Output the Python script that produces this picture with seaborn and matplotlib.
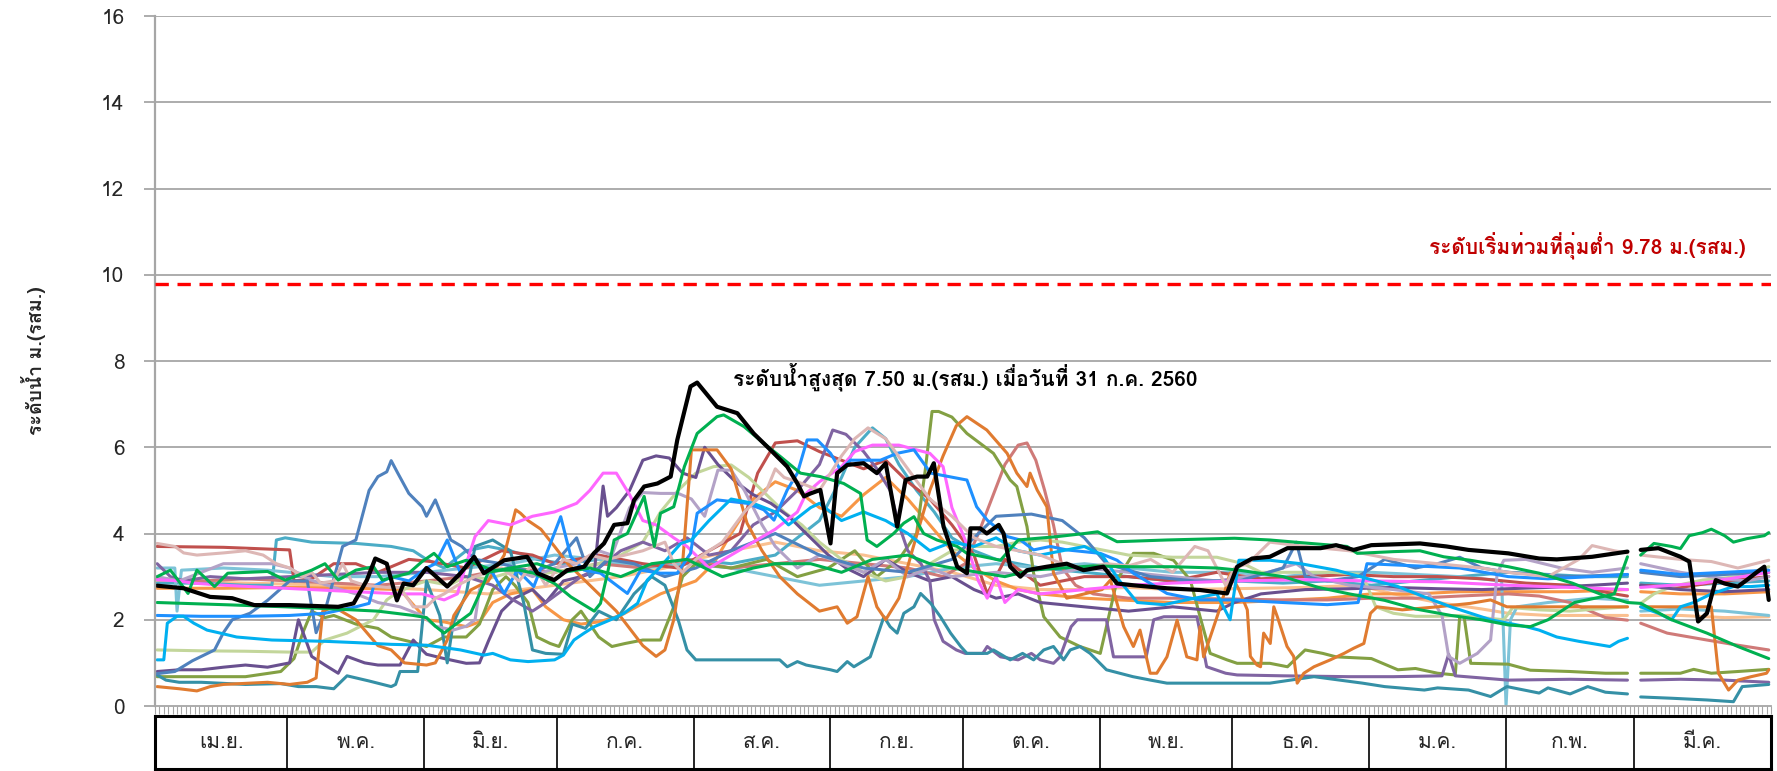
import numpy as np
import pandas as pd
import matplotlib
matplotlib.use("Agg")
import matplotlib.pyplot as plt
import seaborn as sns

GAP = np.nan  # 29 ก.พ. (ไม่มีข้อมูลในปีปกติ)

months = ["เม.ย.", "พ.ค.", "มิ.ย.", "ก.ค.", "ส.ค.", "ก.ย.", "ต.ค.", "พ.ย.", "ธ.ค.", "ม.ค.", "ก.พ.", "มี.ค."]
month_days = [30, 31, 30, 31, 31, 30, 31, 30, 31, 31, 29, 31]

flood_level = 9.78
flood_label = "ระดับเริ่มท่วมที่ลุ่มต่ำ 9.78 ม.(รสม.)"
max_label = "ระดับน้ำสูงสุด 7.50 ม.(รสม.) เมื่อวันที่ 31 ก.ค. 2560"
y_label = "ระดับน้ำ ม.(รสม.)"

# (วัน นับจาก 1 เม.ย., ระดับน้ำ ม.)
black = [(0, 2.79), (6, 2.73), (12, 2.53), (17, 2.5), (22, 2.34), (30, 2.34), (41, 2.3), (44.5, 2.38),
         (47.5, 2.92), (49.4, 3.42), (52, 3.3), (54.3, 2.45), (55.8, 2.84), (58, 2.8), (61, 3.2), (65.7, 2.77),
         (68.7, 3.08), (71.8, 3.46), (74, 3.08), (78.6, 3.38), (83.8, 3.46), (86.1, 3.08), (89.9, 2.92),
         (92.9, 3.15), (96.7, 3.23), (98.9, 3.54), (101.2, 3.77), (103.5, 4.2), (106.5, 4.24), (108, 4.77),
         (110.3, 5.09), (113.3, 5.16), (116.3, 5.32), (117.8, 6.17), (120.8, 7.41), (122.3, 7.5), (126.8, 6.94),
         (131.4, 6.79), (135.1, 6.32), (138.9, 5.94), (142.7, 5.55), (145, 5.16), (146.5, 4.86), (148, 4.93),
         (150.2, 5.01), (152.5, 3.77), (154, 5.4), (156.3, 5.59), (160, 5.63), (163, 5.4), (165, 5.63),
         (167.6, 4.16), (169.5, 5.24), (172.1, 5.32), (174.4, 5.32), (175.9, 5.63), (178.1, 4.16), (181.2, 3.23),
         (183.4, 3.08), (184.2, 4.12), (186.4, 4.12), (187.9, 4.0), (190.6, 4.2), (191.7, 4.0), (193.2, 3.23),
         (195.5, 3.0), (197, 3.15), (201.5, 3.23), (206, 3.3), (209.8, 3.15), (214.3, 3.23), (217.4, 2.84),
         (221.1, 2.8), (228.7, 2.73), (236.2, 2.69), (242.3, 2.61), (244.6, 3.23), (248, 3.42), (252, 3.46),
         (256, 3.66), (263.5, 3.66), (267, 3.73), (271, 3.62), (275, 3.73), (286, 3.77), (292, 3.7), (297, 3.62),
         (306, 3.54), (313, 3.42), (317, 3.4), (325, 3.46), (333, 3.58), (334, GAP), (336, 3.62), (340, 3.66),
         (345, 3.46), (347, 3.35), (349, 1.96), (351, 2.15), (353, 2.92), (355, 2.84), (358, 2.77), (360, 2.92),
         (362, 3.08), (364, 3.23), (365, 2.46)]

green_a = [(0, 3.0), (3, 3.15), (7, 2.61), (9, 3.15), (13, 2.77), (16, 3.08), (25, 3.12), (29, 2.92), (35, 3.15),
           (38, 3.3), (41, 2.92), (45, 3.15), (49, 3.23), (51, 2.92), (57, 3.08), (60, 3.35), (62.7, 3.54),
           (65.7, 3.23), (70, 3.38), (76, 3.15), (82, 3.15), (85.3, 3.08), (90, 2.84), (93.7, 2.53), (97.4, 2.3),
           (99, 2.2), (100.4, 2.38), (102, 3.08), (103.5, 3.85), (106.5, 4.0), (110.3, 4.86), (112.6, 3.7),
           (114, 4.47), (117, 4.62), (119.4, 5.55), (122.3, 6.32), (126.8, 6.71), (128.3, 6.75), (132.9, 6.48),
           (137.4, 6.09), (141.2, 5.78), (145.7, 5.4), (150.2, 5.32), (155.5, 5.16), (159.3, 4.93), (160.8, 3.85),
           (163, 3.7), (166.8, 4.0), (169.1, 4.24), (171.4, 4.39), (173.6, 4.0), (176.6, 3.85), (181.2, 3.7),
           (183.4, 3.54), (191, 3.38), (195, 3.85), (204, 3.93), (210, 4.0), (213, 4.04), (217.4, 3.81),
           (228.7, 3.85), (244, 3.89), (252, 3.85), (260, 3.78), (269.5, 3.7), (271.8, 3.54), (280, 3.58),
           (286, 3.6), (291.4, 3.46), (297.4, 3.38), (306, 3.23), (313, 3.08), (320.5, 2.85), (328, 2.55),
           (333, 2.4), (336, 2.38), (343, 2.0), (351, 1.69), (358, 1.38), (365, 1.1)]

green_b = [(0, 2.4), (15, 2.35), (29, 2.3), (40, 2.25), (50, 2.2), (58, 2.1), (61, 2.05), (63, 1.85), (65, 1.69),
           (67, 1.85), (71, 2.15), (73, 2.6), (75, 3.1), (80, 3.2), (86, 3.3), (92, 3.1), (98, 3.2), (105, 3.0),
           (112, 3.3), (120, 3.4), (128, 3.0), (135, 3.2), (140, 3.3), (148, 3.3), (155, 3.1), (162, 3.4),
           (170, 3.5), (175, 3.3), (180, 3.2), (186, 3.1), (192, 3.0), (198, 3.15), (205, 3.2), (212, 3.25),
           (220, 3.23), (230, 3.23), (240, 3.2), (245, 3.15), (255, 3.0), (263, 2.75), (270, 2.6), (278, 2.45),
           (285, 2.25), (293, 2.1), (300, 2.0), (306, 1.88), (311, 1.84), (315, 2.0), (321, 2.4), (328, 2.55),
           (330, 2.6), (333, 3.46), (334, GAP), (336, 3.5), (339, 3.77), (343, 3.7), (345, 3.65), (347, 3.95),
           (350, 4.02), (352, 4.1), (355, 3.95), (357, 3.8), (360, 3.88), (364, 3.95), (365, 4.02)]

steel = [(0, 0.75), (4, 0.8), (8, 1.05), (13, 1.3), (15, 1.7), (17, 2.0), (21, 2.15), (25, 2.45), (30, 2.9),
         (34, 2.9), (36, 1.7), (38, 2.2), (42, 3.7), (45, 3.85), (48, 5.0), (50, 5.32), (52, 5.43), (53, 5.69),
         (54.5, 5.4), (57, 4.93), (60, 4.62), (61, 4.4), (63, 4.78), (64.5, 4.4), (66.5, 3.85), (69, 3.7),
         (72, 3.4), (78, 3.3), (85, 3.1), (90, 3.3), (95, 3.9), (98, 3.0), (102, 3.4), (108, 3.3), (115, 3.0),
         (122, 3.2), (130, 3.6), (140, 4.0), (150, 3.5), (160, 3.2), (170, 3.1), (180, 3.4), (186, 4.0),
         (190, 4.4), (198, 4.45), (205, 4.3), (210, 3.9), (215, 3.3), (225, 3.0), (235, 2.9), (245, 2.9),
         (255, 3.2), (258, 3.8), (260, 3.0), (265, 2.9), (272, 3.0), (278, 3.4), (285, 3.2), (290, 3.3),
         (295, 3.45), (300, 3.2), (306, 3.1), (320, 3.0), (333, 3.05), (334, GAP), (336, 3.1), (345, 3.0),
         (355, 3.05), (365, 3.1)]

cyan = [(0, 1.07), (1.5, 1.07), (2.3, 1.92), (4.5, 2.08), (6, 2.08), (8.3, 1.92), (11.3, 1.76), (14.3, 1.69),
        (18, 1.6), (26, 1.53), (38, 1.5), (45, 1.47), (53, 1.43), (61, 1.41), (68.7, 1.3), (74, 1.18), (76, 1.22),
        (80, 1.07), (84, 1.03), (90, 1.07), (92, 1.18), (94.4, 1.53), (96.7, 1.69), (99, 1.84), (102.7, 2.0),
        (105.7, 2.15), (108.8, 2.38), (111, 2.92), (114, 3.23), (118.6, 3.77), (121, 3.85), (125, 4.3),
        (130, 4.8), (135, 4.7), (140, 4.5), (143, 4.2), (148, 4.6), (150, 4.7), (155, 4.3), (160, 4.5),
        (165, 4.3), (170, 4.0), (175, 3.6), (180, 3.8), (185, 3.7), (190, 3.9), (195, 3.6), (200, 3.5),
        (205, 3.6), (210, 3.7), (214, 3.5), (218, 2.9), (222, 2.4), (228, 2.35), (235, 2.5), (240, 2.6),
        (243, 2.0), (245, 3.38), (252, 3.38), (259, 3.3), (267, 3.15), (275, 2.93), (281, 2.77), (287, 2.53),
        (293, 2.3), (302, 2.0), (306, 1.92), (310, 1.84), (313, 1.76), (317, 1.6), (322, 1.5), (329, 1.38),
        (331, 1.5), (333, 1.57), (334, GAP), (336, 2.3), (340, 2.15), (343, 2.0), (345, 2.3), (348, 2.4),
        (352, 2.6), (357, 2.77), (361, 2.77), (365, 2.8)]

dodger = [(0, 2.1), (10, 2.08), (20, 2.08), (30, 2.1), (38, 2.15), (45, 2.3), (48, 2.38), (49, 2.77), (53, 3.0),
          (57, 2.9), (61, 3.2), (63, 3.3), (65.7, 3.85), (68.7, 3.08), (71, 3.4), (76, 3.08), (78.6, 2.61),
          (81.6, 3.15), (85.3, 2.77), (91.4, 4.39), (93.7, 3.46), (96.7, 3.15), (100.4, 3.08), (106.5, 2.61),
          (109.5, 3.15), (114, 3.08), (117.8, 3.08), (120.8, 3.54), (122.3, 4.47), (126.8, 4.78), (133.6, 4.7),
          (137.4, 4.55), (139.7, 4.31), (142.7, 5.01), (145, 5.4), (147.2, 6.17), (149.5, 6.17), (152.5, 5.86),
          (154.8, 5.47), (157, 5.7), (163.8, 5.7), (167.6, 5.86), (171.4, 5.94), (175.2, 5.4), (183.4, 5.24),
          (185.6, 4.62), (188, 4.31), (192.5, 3.93), (195.5, 3.85), (198.5, 3.62), (202.3, 3.7), (206, 3.62),
          (213.6, 3.54), (217.4, 3.38), (221.1, 3.08), (228.7, 2.61), (232.5, 2.53), (236.2, 2.46), (244, 2.46),
          (255, 2.4), (265, 2.35), (272, 2.4), (274, 3.3), (285, 3.25), (295, 3.2), (306, 3.0), (315, 2.95),
          (325, 3.0), (333, 3.05), (334, GAP), (336, 3.15), (345, 3.05), (355, 3.1), (365, 3.15)]

magenta = [(0, 2.93), (5, 2.9), (8, 2.85), (15, 2.8), (25, 2.75), (35, 2.7), (45, 2.65), (55, 2.6), (60, 2.6),
           (65, 2.46), (68, 2.6), (70, 3.3), (72, 3.93), (75, 4.3), (80, 4.2), (85, 4.4), (90, 4.5), (95, 4.7),
           (98, 5.0), (101, 5.4), (104, 5.4), (107, 4.9), (110, 4.3), (113, 4.2), (117, 3.9), (120, 3.7),
           (125, 3.2), (130, 3.5), (135, 3.8), (140, 4.1), (145, 4.5), (147, 4.93), (150, 5.2), (155, 5.55),
           (158, 5.9), (162, 6.05), (168, 6.05), (172, 5.94), (175, 5.86), (178, 5.55), (180, 4.6), (183, 3.85),
           (186, 2.9), (188, 2.5), (190, 3.0), (192, 2.4), (195, 2.7), (200, 2.6), (210, 2.7), (220, 2.8),
           (230, 2.85), (244, 2.9), (260, 2.93), (275, 2.9), (290, 2.88), (306, 2.8), (320, 2.75), (333, 2.7),
           (334, GAP), (336, 2.75), (350, 2.85), (365, 3.1)]

lavender = [(0, 3.0), (5, 2.9), (10, 3.1), (15, 3.3), (20, 3.3), (26, 3.3), (30, 3.2), (34, 2.95), (40, 2.75),
            (45, 2.6), (50, 2.4), (55, 2.3), (60, 2.1), (63, 1.85), (67, 1.76), (70, 1.85), (72, 2.0), (73, 2.7),
            (76, 3.1), (80, 3.2), (85, 3.0), (90, 3.2), (95, 3.3), (100, 3.6), (103, 3.5), (107, 4.6), (110, 4.95),
            (114, 4.93), (118, 4.93), (121, 4.8), (124, 4.4), (127, 5.47), (130, 5.47), (133, 5.0), (137, 4.2),
            (140, 3.7), (145, 3.2), (150, 3.5), (155, 3.3), (160, 3.1), (165, 3.4), (170, 3.0), (175, 3.2),
            (180, 3.0), (190, 3.1), (200, 3.0), (210, 3.2), (220, 3.1), (230, 3.0), (240, 2.9), (250, 3.05),
            (258, 3.3), (262, 3.0), (270, 2.8), (280, 2.7), (288, 2.6), (291, 2.1), (292.5, 1.15), (295, 0.99),
            (299, 1.22), (302, 1.53), (303.5, 3.08), (305, 3.38), (310, 3.4), (318, 3.2), (325, 3.1), (333, 3.2),
            (334, GAP), (336, 3.3), (345, 3.1), (355, 2.95), (360, 2.9), (365, 3.0)]

light_green = [(0, 1.3), (10, 1.28), (20, 1.27), (30, 1.25), (35, 1.25), (38, 1.53), (43, 1.69), (49, 2.0),
               (52, 2.46), (54, 2.61), (58, 2.8), (61, 2.9), (66, 2.8), (70, 3.0), (75, 2.95), (80, 3.1),
               (85, 3.05), (90, 3.1), (95, 3.2), (100, 3.3), (105, 3.5), (110, 3.8), (114, 4.5), (118, 5.0),
               (122, 5.4), (126, 5.55), (130, 5.59), (134, 5.3), (138, 4.9), (142, 4.5), (146, 4.2), (150, 3.8),
               (155, 3.4), (160, 3.1), (165, 2.9), (170, 3.0), (175, 3.3), (180, 3.6), (185, 3.7), (190, 3.7),
               (195, 3.8), (200, 3.85), (205, 3.8), (210, 3.7), (215, 3.6), (220, 3.5), (230, 3.45), (240, 3.45),
               (246, 3.3), (250, 3.1), (258, 3.1), (266, 3.1), (273, 3.05), (276, 2.3), (280, 2.15), (285, 2.08),
               (290, 2.08), (295, 2.1), (300, 2.05), (305, 2.0), (307, 2.28), (313, 2.23), (320, 2.2),
               (326, 2.25), (333, 2.3), (334, GAP), (336, 2.38), (339, 2.6), (343, 2.77), (350, 2.92),
               (358, 3.0), (365, 3.23)]

olive = [(0, 0.68), (10, 0.68), (20, 0.68), (28, 0.8), (31, 1.1), (33, 1.7), (35, 2.2), (38, 2.05), (40, 2.1),
         (45, 1.9), (50, 1.8), (53, 1.6), (57, 1.5), (61, 1.38), (65, 1.6), (70, 1.6), (73, 1.9), (76, 2.7),
         (79, 3.0), (81, 2.8), (84, 2.4), (86, 1.6), (89, 1.45), (91, 1.38), (94, 2.0), (96, 2.2), (100, 1.6),
         (103, 1.38), (106, 1.45), (110, 1.53), (114, 1.53), (117, 2.3), (119, 3.0), (122, 3.3), (130, 3.2),
         (138, 3.4), (145, 3.0), (152, 3.2), (158, 3.6), (163, 3.0), (168, 3.4), (172, 4.0), (174, 5.5),
         (175.5, 6.83), (177, 6.83), (180, 6.7), (183.4, 6.32), (189.4, 5.86), (193.2, 5.24), (194.7, 5.09),
         (197, 4.16), (198.5, 3.08), (200.8, 2.07), (204.5, 1.6), (209, 1.38), (213.6, 1.22), (215, 1.84),
         (217.4, 2.92), (221.1, 3.54), (225.7, 3.54), (230.2, 3.38), (234, 2.92), (236.2, 2.07), (238.5, 1.22),
         (242.3, 1.07), (244.6, 0.99), (252, 0.99), (256, 0.91), (260, 1.3), (264, 1.22), (267, 1.14),
         (275, 1.1), (281, 0.84), (285, 0.87), (290, 0.76), (294, 0.72), (295, 2.07), (296, 2.07),
         (297.5, 0.99), (306, 0.97), (311, 0.83), (320, 0.8), (328, 0.76), (333, 0.76), (334, GAP), (336, 0.76),
         (345, 0.76), (348, 0.85), (352, 0.76), (358, 0.8), (365, 0.85)]

dark_purple = [(0, 0.8), (5, 0.84), (10, 0.84), (15, 0.9), (20, 0.95), (25, 0.9), (30, 1.0), (32, 2.0),
               (35, 1.15), (38, 0.95), (41, 0.76), (43, 1.15), (47, 1.0), (50, 0.95), (55, 0.95), (58, 1.53),
               (60, 1.3), (61, 1.2), (65, 1.1), (70, 0.99), (73, 1.0), (75, 1.5), (78, 2.2), (81, 2.5), (85, 2.7),
               (88, 2.4), (92, 2.9), (96, 3.0), (99, 3.1), (101, 5.1), (102, 4.4), (104, 4.6), (107, 5.0),
               (110, 5.7), (113, 5.8), (116, 5.75), (119, 5.4), (122, 5.3), (124, 6.0), (127, 5.6), (131, 5.2),
               (135, 4.9), (139, 4.7), (143, 4.4), (148, 3.9), (152, 3.5), (156, 3.2), (160, 3.0), (165, 3.4),
               (170, 3.1), (175, 2.9), (180, 3.0), (185, 2.7), (190, 2.5), (195, 2.6), (200, 2.4), (210, 2.3),
               (220, 2.2), (230, 2.3), (240, 2.2), (244, 2.4), (250, 2.6), (260, 2.7), (270, 2.72), (280, 2.75),
               (290, 2.72), (300, 2.7), (306, 2.72), (315, 2.75), (325, 2.8), (333, 2.85), (334, GAP), (336, 2.8),
               (345, 2.7), (355, 2.65), (365, 2.7)]

purple = [(0, 3.3), (3, 3.0), (6, 2.9), (12, 3.0), (20, 2.95), (30, 3.0), (40, 3.05), (50, 3.1), (61, 3.1),
          (70, 3.0), (76, 2.8), (80, 2.5), (85, 2.2), (88, 2.4), (92, 2.7), (96, 3.0), (100, 3.2), (105, 3.6),
          (110, 3.8), (115, 3.6), (120, 3.9), (125, 3.5), (130, 3.6), (135, 4.2), (140, 4.5), (145, 5.0),
          (150, 5.6), (153, 6.4), (156, 6.3), (160, 5.9), (163, 5.5), (166, 5.0), (168, 4.2), (170, 3.6),
          (173, 3.3), (175, 2.9), (176, 2.0), (178, 1.5), (181, 1.3), (183, 1.22), (187, 1.22), (188, 1.38),
          (191, 1.14), (195, 1.07), (198, 1.22), (200, 1.07), (203, 0.99), (204.5, 1.14), (207, 1.84),
          (208.4, 2.0), (215, 2.0), (216.6, 1.14), (224, 1.14), (225.7, 2.0), (228, 2.07), (235.5, 2.07),
          (237.7, 0.91), (242, 0.76), (244.6, 0.72), (255, 0.7), (270, 0.68), (280, 0.68), (291, 0.7),
          (292.5, 1.2), (294, 0.7), (306, 0.6), (320, 0.62), (333, 0.6), (334, GAP), (336, 0.6), (345, 0.62),
          (355, 0.6), (365, 0.55)]

teal = [(0, 0.72), (2, 0.6), (5, 0.55), (10, 0.55), (20, 0.5), (28, 0.52), (32, 0.45), (36, 0.45), (40, 0.4),
        (43, 0.7), (48, 0.58), (53, 0.45), (54, 0.5), (55, 0.8), (59, 0.8), (61, 2.9), (64, 2.1), (65.7, 1.0),
        (67, 1.9), (70, 2.6), (72, 3.7), (76, 3.85), (80, 3.6), (83, 2.4), (85, 1.3), (88, 1.22), (92, 1.2),
        (94, 1.9), (97, 1.8), (100, 2.2), (104, 2.0), (108, 2.6), (112, 3.0), (115, 2.8), (118, 2.0),
        (120, 1.3), (122, 1.07), (141, 1.07), (142.7, 0.91), (145, 1.03), (147, 0.95), (152.5, 0.84),
        (154, 0.8), (156.3, 1.03), (157.8, 0.91), (161.5, 1.14), (164.6, 2.07), (166, 1.84), (167.6, 1.69),
        (169.1, 2.15), (171.4, 2.3), (172.9, 2.61), (175.2, 2.38), (177.4, 2.07), (179.7, 1.69), (182, 1.38),
        (183.4, 1.22), (188, 1.22), (189.4, 1.3), (193.2, 1.07), (196, 1.22), (198.5, 1.07), (200.8, 1.3),
        (203, 1.38), (205.3, 1.07), (206.8, 1.3), (209, 1.38), (211.3, 1.22), (215, 0.84), (218, 0.76),
        (221, 0.68), (225, 0.6), (228.7, 0.53), (244.6, 0.53), (252, 0.53), (262, 0.68), (273, 0.53),
        (278, 0.45), (287, 0.37), (290, 0.42), (297, 0.37), (302, 0.22), (305.7, 0.45), (313, 0.3),
        (315, 0.42), (320, 0.28), (324, 0.45), (328, 0.32), (333, 0.28), (334, GAP), (336, 0.21), (343, 0.18),
        (351, 0.14), (357, 0.1), (359, 0.45), (365, 0.5)]

aqua = [(0, 2.85), (10, 2.85), (20, 2.8), (26, 2.8), (27, 3.85), (29, 3.9), (35, 3.8), (45, 3.77), (53, 3.7),
        (58, 3.6), (61, 3.4), (65, 3.2), (70, 3.6), (75, 3.7), (80, 3.6), (86, 3.4), (92, 3.3), (100, 3.4),
        (110, 3.2), (120, 3.4), (130, 3.3), (140, 3.5), (150, 4.3), (155, 5.3), (158, 6.0), (162, 6.45),
        (165, 6.2), (168, 5.6), (172, 5.0), (176, 4.5), (180, 3.9), (185, 3.6), (190, 3.4), (200, 3.2),
        (210, 3.1), (220, 3.0), (230, 2.9), (244, 2.9), (255, 2.85), (265, 2.9), (275, 2.8), (285, 2.9),
        (295, 3.0), (306, 3.1), (315, 3.05), (325, 3.0), (333, 3.0), (334, GAP), (336, 2.85), (345, 2.8),
        (355, 2.85), (365, 2.9)]

light_aqua = [(0, 3.2), (4, 3.2), (4.5, 2.2), (5.5, 3.15), (15, 3.2), (25, 3.15), (30, 3.1), (40, 3.0),
              (50, 3.0), (61, 3.1), (70, 3.2), (80, 3.3), (90, 3.5), (100, 3.4), (110, 3.2), (120, 3.3),
              (130, 3.2), (140, 3.0), (150, 2.8), (160, 2.9), (170, 3.0), (175, 3.1), (180, 3.2), (190, 3.3),
              (200, 3.2), (210, 3.3), (220, 3.2), (230, 3.1), (244, 3.1), (255, 3.0), (265, 3.1), (275, 3.1),
              (285, 3.05), (295, 3.0), (304.5, 2.9), (305.5, 0.0), (306.5, 2.0), (308, 2.3), (315, 2.4),
              (325, 2.5), (333, 2.45), (334, GAP), (336, 2.2), (345, 2.25), (355, 2.2), (365, 2.1)]

orange_dark = [(0, 0.45), (5, 0.4), (9, 0.35), (12, 0.45), (15, 0.5), (25, 0.55), (30, 0.5), (34, 0.55),
               (36, 0.65), (37.5, 2.2), (40, 2.3), (45, 2.0), (50, 1.4), (53, 1.3), (56, 1.0), (61, 0.95),
               (63, 1.0), (65.7, 1.53), (67.2, 2.1), (71, 2.69), (75, 2.9), (78.6, 3.5), (81.2, 4.55),
               (82.3, 4.47), (84, 4.3), (86.9, 4.1), (90, 3.7), (93, 3.3), (96, 3.0), (100, 2.6), (104, 2.2),
               (107, 1.8), (110, 1.4), (113, 1.15), (115, 1.3), (117, 2.0), (119, 3.3), (121, 5.94),
               (126.8, 5.94), (130, 5.5), (133.6, 4.24), (137, 3.6), (141, 3.0), (145, 2.6), (150, 2.2),
               (154, 2.3), (156.3, 1.92), (158.5, 2.07), (161, 3.0), (163, 2.3), (165, 2.0), (168, 2.5),
               (171, 3.6), (175, 5.0), (178, 5.8), (181, 6.5), (183.4, 6.71), (187.9, 6.4), (192.5, 5.86),
               (194.7, 5.4), (197, 5.09), (197.7, 5.4), (199.3, 5.01), (201.5, 4.62), (203, 3.08), (206, 2.5),
               (210, 2.6), (214, 2.7), (215.9, 2.92), (218.9, 1.84), (221.1, 1.38), (222.6, 1.76), (224.9, 0.76),
               (226.4, 0.76), (228.7, 1.14), (231, 1.99), (233.2, 1.14), (235.5, 1.07), (236.2, 1.84),
               (237, 1.14), (240.8, 2.3), (243, 3.08), (245, 2.7), (246.9, 2.23), (247.6, 1.15), (249.1, 0.95),
               (249.9, 0.91), (250.6, 1.69), (252.1, 1.45), (252.9, 2.3), (253.7, 2.07), (255.9, 1.38),
               (257.4, 1.15), (258.2, 0.53), (259.7, 0.76), (262, 0.91), (265.7, 1.07), (268.8, 1.22),
               (271, 1.34), (273.3, 1.45), (274.8, 2.15), (276.3, 2.3), (282, 2.23), (290, 2.3), (297.4, 2.38),
               (302, 2.46), (305.7, 2.3), (315, 2.3), (333, 2.3), (334, GAP), (336, 2.3), (345, 2.3), (352, 2.3),
               (353.6, 0.76), (355.9, 0.37), (358, 0.6), (361, 0.68), (364.5, 0.76), (365, 0.84)]

orange_light = [(0, 2.73), (15, 2.73), (30, 2.75), (45, 2.73), (55, 2.7), (61, 2.0), (65, 1.95), (70, 1.84),
                (73, 1.95), (76, 2.4), (80, 2.6), (85, 2.7), (88, 2.3), (92, 2.0), (96, 1.9), (100, 1.95),
                (105, 2.1), (110, 2.38), (114, 2.6), (118, 2.75), (122, 2.9), (126, 3.3), (130, 4.0), (135, 4.8),
                (140, 5.2), (145, 5.0), (150, 4.6), (155, 4.4), (160, 4.9), (165, 5.3), (170, 4.8), (175, 4.2),
                (180, 3.6), (185, 3.2), (190, 2.9), (195, 2.7), (200, 2.6), (210, 2.5), (220, 2.45), (230, 2.4),
                (244, 2.4), (255, 2.45), (265, 2.5), (275, 2.6), (285, 2.6), (295, 2.65), (306, 2.65),
                (320, 2.65), (333, 2.7), (334, GAP), (336, 2.65), (345, 2.6), (355, 2.6), (365, 2.65)]

peach = [(0, 2.9), (20, 2.85), (40, 2.8), (61, 2.7), (75, 2.6), (90, 2.8), (105, 3.0), (115, 3.2), (122, 3.4),
         (130, 3.6), (140, 3.8), (150, 3.6), (160, 3.5), (170, 3.3), (180, 3.1), (190, 2.8), (200, 2.7),
         (210, 2.7), (220, 2.75), (230, 2.7), (244, 2.72), (260, 2.75), (272, 2.8), (280, 2.6), (290, 2.4),
         (300, 2.25), (306, 2.15), (315, 2.1), (325, 2.1), (333, 2.1), (334, GAP), (336, 2.1), (345, 2.1),
         (355, 2.05), (365, 2.07)]

rose_light = [(0, 3.77), (4, 3.7), (6, 3.55), (9, 3.5), (15, 3.55), (20, 3.6), (24, 3.5), (27, 3.3), (30, 3.2),
              (33, 3.0), (35, 3.1), (37, 2.85), (40, 2.9), (42, 3.3), (44, 2.9), (47, 2.8), (52, 2.75),
              (55, 2.75), (58, 2.3), (61, 2.3), (63, 2.5), (65, 2.6), (68, 2.8), (72, 3.0), (75, 3.1), (78, 3.2),
              (82, 2.9), (85, 3.3), (88, 2.8), (92, 3.4), (95, 3.3), (98, 3.5), (102, 3.4), (106, 3.5),
              (110, 3.6), (115, 3.8), (117, 3.3), (119, 3.1), (122, 3.4), (128, 3.8), (133, 4.5), (138, 5.0),
              (140, 5.5), (142, 5.3), (145, 5.2), (150, 5.0), (155, 5.8), (158, 6.2), (161, 6.45), (165, 6.2),
              (170, 5.5), (175, 4.8), (180, 4.4), (185, 3.9), (190, 3.7), (195, 3.6), (200, 3.5), (205, 3.3),
              (210, 3.2), (215, 3.3), (220, 3.25), (225, 3.4), (230, 3.1), (235, 3.7), (238, 3.6), (242, 2.8),
              (244, 3.2), (247, 3.3), (252, 3.8), (260, 3.7), (270, 3.6), (280, 3.4), (290, 3.3), (300, 3.2),
              (306, 3.1), (315, 3.0), (322, 3.4), (325, 3.72), (330, 3.6), (333, 3.55), (334, GAP), (336, 3.5),
              (345, 3.4), (352, 3.35), (358, 3.2), (365, 3.38)]

rose = [(0, 2.95), (10, 2.9), (20, 2.95), (30, 2.9), (40, 2.85), (50, 2.8), (61, 2.9), (70, 3.0), (80, 3.2),
        (90, 3.1), (100, 3.3), (110, 3.2), (120, 3.4), (130, 3.2), (140, 3.3), (150, 3.4), (160, 3.3),
        (170, 3.2), (178, 3.0), (183, 3.3), (186, 4.0), (189, 4.8), (192, 5.6), (195, 6.05), (197, 6.1),
        (199, 5.7), (201, 5.0), (203, 4.2), (205, 3.2), (208, 2.8), (212, 2.6), (220, 2.5), (230, 2.5),
        (244, 2.48), (255, 2.46), (265, 2.46), (275, 2.5), (285, 2.5), (295, 2.55), (306, 2.6), (313, 2.55),
        (320, 2.4), (328, 2.05), (333, 1.99), (334, GAP), (336, 1.92), (342, 1.69), (351, 1.53), (358, 1.41),
        (365, 1.3)]

brick = [(0, 3.7), (15, 3.68), (30, 3.62), (31, 2.9), (35, 2.95), (40, 3.3), (45, 3.3), (50, 3.1), (57, 3.4),
         (62, 3.35), (70, 3.2), (78, 3.6), (85, 3.5), (90, 3.3), (100, 3.5), (110, 3.3), (118, 3.2), (125, 3.6),
         (132, 4.0), (136, 5.4), (140, 6.1), (145, 6.15), (150, 5.9), (155, 5.7), (160, 5.5), (165, 5.7),
         (170, 5.2), (175, 4.8), (180, 4.2), (185, 3.5), (188, 2.6), (192, 3.4), (200, 2.8), (210, 3.0),
         (220, 3.0), (230, 2.9), (240, 3.1), (250, 2.95), (260, 3.0), (270, 3.05), (280, 3.0), (290, 3.0),
         (300, 2.95), (310, 2.85), (320, 2.8), (330, 2.6), (333, 2.55), (334, GAP), (336, 2.8), (345, 2.75),
         (355, 2.9), (365, 3.0)]

series = {
    "peach": (peach, "#FAC090"), "orange_light": (orange_light, "#F79646"), "aqua": (aqua, "#4BACC6"),
    "light_aqua": (light_aqua, "#7DC3D8"), "rose": (rose, "#CF7A78"), "brick": (brick, "#C0504D"),
    "olive": (olive, "#83A043"), "light_green": (light_green, "#C3D69B"), "dark_purple": (dark_purple, "#69508F"),
    "purple": (purple, "#8064A2"), "teal": (teal, "#3590A6"), "lavender": (lavender, "#B3A2C7"),
    "steel": (steel, "#4F81BD"), "orange_dark": (orange_dark, "#E07B30"), "magenta": (magenta, "#FF66FF"),
    "dodger": (dodger, "#1E90FF"), "cyan": (cyan, "#00B0F0"), "rose_light": (rose_light, "#DDB7B5"),
    "green_b": (green_b, "#00B050"), "green_a": (green_a, "#00B050"),
}


def to_frame(name, pts):
    """แยกเส้นเป็นช่วง ๆ ตรงที่ไม่มีข้อมูล (29 ก.พ.)"""
    seg = 0
    rows = []
    for d, v in pts:
        if np.isnan(v):
            seg += 1
            continue
        rows.append({"series": name, "unit": f"{name}-{seg}", "day": d, "level": v})
    return pd.DataFrame(rows)


df = pd.concat([to_frame(k, pts) for k, (pts, _) in series.items()], ignore_index=True)
df_black = to_frame("black", black)

sns.set_theme(style="white")
plt.rcParams["font.family"] = ["Loma", "DejaVu Sans"]

fig = plt.figure(figsize=(17.77, 7.71), dpi=100)
ax = fig.add_axes([0.0872, 0.0843, 0.9094, 0.8949])

grid_c = "#A6A6A6"
for yv in range(2, 17, 2):
    ax.axhline(yv, color=grid_c, lw=1.3, zorder=0)

sns.lineplot(data=df, x="day", y="level", hue="series", units="unit", estimator=None, sort=False,
             palette={k: c for k, (_, c) in series.items()}, hue_order=list(series.keys()),
             linewidth=2.2, legend=False, ax=ax)
sns.lineplot(data=df_black, x="day", y="level", units="unit", estimator=None, sort=False,
             color="black", linewidth=3.0, legend=False, ax=ax)

ax.axhline(flood_level, color="#FF0000", lw=2.4, dashes=(4, 2.6), zorder=5)

ax.set_xlim(-0.5, 365.5)
ax.set_ylim(0, 16)
ax.set_yticks(range(0, 17, 2))
ax.set_xticks([])
ax.set_xticks(np.arange(-0.5, 366, 1), minor=True)
ax.tick_params(axis="x", which="minor", bottom=True, length=6, width=0.8, color=grid_c)
ax.tick_params(axis="y", left=True, length=8, width=1.3, color=grid_c, pad=14, labelsize=15,
               labelcolor="#262626")
ax.set_xlabel("")
ax.set_ylabel(y_label, fontsize=14, fontweight="bold", labelpad=40)
for s in ["top", "right"]:
    ax.spines[s].set_visible(False)
ax.spines["left"].set_color(grid_c)
ax.spines["left"].set_linewidth(1.6)
ax.spines["bottom"].set_color(grid_c)
ax.spines["bottom"].set_linewidth(1.3)

ax.text(130.5, 7.63, max_label, fontsize=15, fontweight="bold", color="black", va="center", ha="left")
ax.text(359.7, 10.67, flood_label, fontsize=15, fontweight="bold", color="#C00000", va="center", ha="right")

# ตารางชื่อเดือนใต้แกน x
tab = fig.add_axes([0.0872, 0.0026, 0.9094, 0.0687])
tab.set_xlim(-0.5, 365.5)
tab.set_ylim(0, 1)
tab.set_xticks([])
tab.set_yticks([])
edges = np.concatenate([[0], np.cumsum(month_days)]) - 0.5
for e in edges[1:-1]:
    tab.axvline(e, color="black", lw=1.2)
for i, m in enumerate(months):
    tab.text((edges[i] + edges[i + 1]) / 2, 0.5, m, ha="center", va="center", fontsize=15, color="#262626")
for s in tab.spines.values():
    s.set_visible(True)
    s.set_color("black")
    s.set_linewidth(2.2)

fig.savefig("out.png", dpi=100)
